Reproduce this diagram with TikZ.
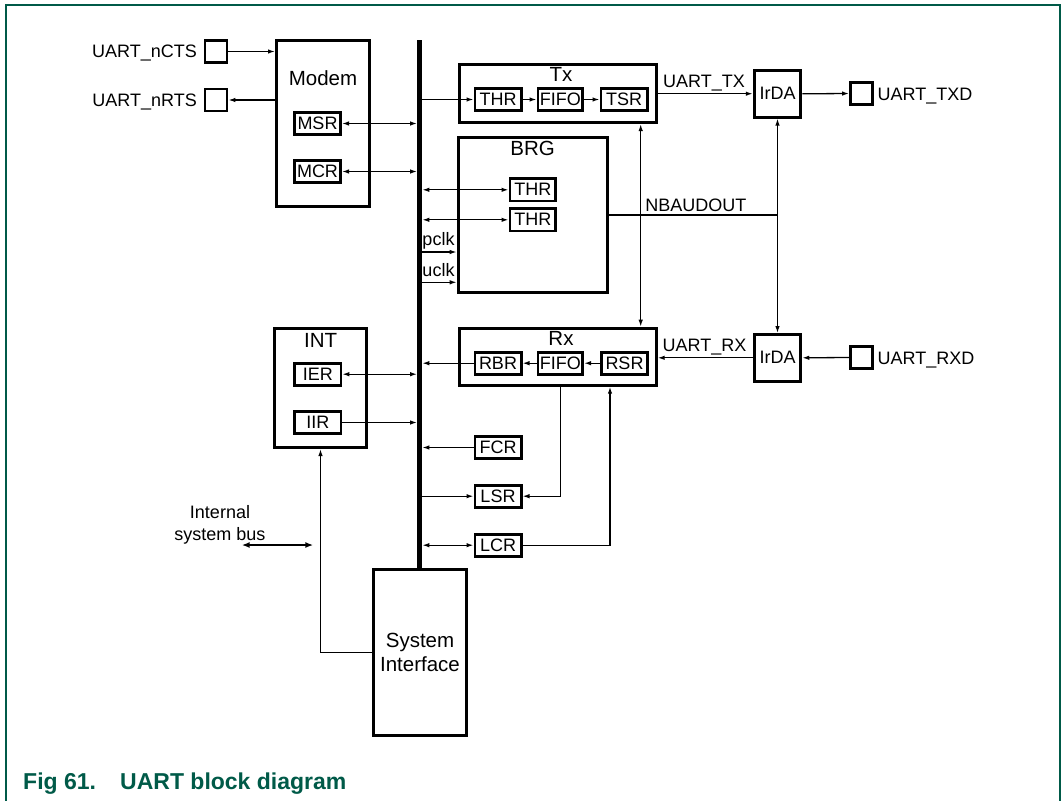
\documentclass[tikz,border=0pt]{standalone}
\usepackage{fontspec}
\setmainfont{Liberation Sans}
\usetikzlibrary{arrows.meta,calc}
\definecolor{nxpgreen}{RGB}{0,90,72}
\newcommand\fsreg{\fontsize{18}{21.6}\selectfont}
\newcommand\fstitle{\fontsize{20.5}{24.4}\selectfont}
\begin{document}
\begin{tikzpicture}[x=1pt,y=-1pt,
  box/.style={draw,line width=3pt,inner sep=0pt},
  reg/.style={draw,line width=2.8pt,inner sep=0pt,minimum width=46.2pt,minimum height=22.2pt,font=\fsreg},
  pin/.style={draw,line width=2.8pt,minimum size=22pt,inner sep=0pt},
  title/.style={font=\fstitle,anchor=base,inner sep=0pt},
  lbl/.style={font=\fsreg,inner sep=0pt},
  wire/.style={line width=1.3pt},
  arr/.style={wire,-{Latex[length=7pt,width=4.5pt]}},
  darr/.style={wire,{Latex[length=7pt,width=4.5pt]}-{Latex[length=7pt,width=4.5pt]}},
]
\useasboundingbox (0,0) rectangle (1061,801);
\draw[nxpgreen,line width=2pt] (6,801) -- (6,5) -- (1060,5) -- (1060,801);

% bus
\node[fill=black,inner sep=0pt,minimum width=4.8pt,minimum height=528pt] (bus) at (419.7,304) {};

% Modem
\node[box,minimum width=93pt,minimum height=166pt] (modem) at (323,123.5) {};
\node[title] (modemT) at (323,85.7) {Modem};
\node[reg] (msr) at (317.5,123.5) {MSR};
\node[reg] (mcr) at (317.5,171.5) {MCR};
\node[pin] (ncts) at (216,51.5) {};
\node[pin] (nrts) at (216,100) {};
\node[lbl,anchor=base east] (nctsL) at (197,57.7) {UART\_nCTS};
\node[lbl,anchor=base east] (nrtsL) at (197,106) {UART\_nRTS};

% Tx
\node[box,minimum width=197pt,minimum height=57.7pt] (tx) at (557.7,93.7) {};
\node[title] (txT) at (561,81.7) {Tx};
\node[reg] (txthr) at (498,99.5) {THR};
\node[reg,minimum width=44.8pt] (txfifo) at (560.3,99.5) {FIFO};
\node[reg] (txtsr) at (624,99.5) {TSR};
\node[box,minimum size=46.5pt,font=\fsreg] (irda1) at (777.5,93.8) {IrDA};
\node[pin] (txd) at (861.5,93.5) {};
\node[lbl,anchor=base west] (txdL) at (877.5,100) {UART\_TXD};
\node[lbl,anchor=base] (uarttxL) at (704,87.7) {UART\_TX};

% BRG
\node[box,minimum width=149.6pt,minimum height=155.6pt] (brg) at (533,215) {};
\node[title] (brgT) at (532.7,155) {BRG};
\node[reg,minimum width=45.8pt] (bthr1) at (532.8,189.8) {THR};
\node[reg,minimum width=45.8pt] (bthr2) at (532.8,219.8) {THR};
\node[lbl,anchor=base] (nbaudL) at (695.8,211.7) {NBAUDOUT};
\node[lbl,anchor=base] (pclkL) at (438.5,245.3) {pclk};
\node[lbl,anchor=base] (uclkL) at (438.5,276) {uclk};

% Rx
\node[box,minimum width=197pt,minimum height=57pt] (rx) at (557.7,356.7) {};
\node[title] (rxT) at (561,345.7) {Rx};
\node[reg] (rbr) at (498,363.2) {RBR};
\node[reg,minimum width=44.8pt] (rxfifo) at (560.3,363.2) {FIFO};
\node[reg] (rsr) at (624.5,363.2) {RSR};
\node[box,minimum size=46.5pt,font=\fsreg] (irda2) at (777.5,357.8) {IrDA};
\node[pin] (rxd) at (861.5,357.5) {};
\node[lbl,anchor=base west] (rxdL) at (877.5,364) {UART\_RXD};
\node[lbl,anchor=base] (uartrxL) at (704.5,351.7) {UART\_RX};

% INT
\node[box,minimum width=92.6pt,minimum height=118.7pt] (int) at (320.5,388.2) {};
\node[title] (intT) at (320.7,347.7) {INT};
\node[reg] (ier) at (317.8,374.2) {IER};
\node[reg] (iir) at (317.8,422.5) {IIR};

% FCR LSR LCR
\node[reg] (fcr) at (498,447.5) {FCR};
\node[reg] (lsr) at (498,496.2) {LSR};
\node[reg] (lcr) at (498,545.2) {LCR};

% System interface
\node[box,minimum width=93.6pt,minimum height=165.4pt,font=\fstitle,align=center] (sysif) at (420,652.5) {System\\Interface};

% Internal system bus
\node[lbl,anchor=base] (isb1) at (220,518) {Internal};
\node[lbl,anchor=base] (isb2) at (220,540) {system bus};
\coordinate (isbL) at (241.7,545);
\coordinate (isbR) at (313.3,545);

% caption
\node[anchor=base west,inner sep=0pt,text=nxpgreen,font=\fontsize{23}{27}\selectfont\bfseries] (cap) at (23,789) {\makebox[97pt][l]{Fig 61.}UART block diagram};

% connectors
\draw[arr] (ncts.east) -- (ncts.east -| modem.west);
\draw[arr] (nrts.east -| modem.west) -- (nrts.east);
\draw[darr] (msr.east) -- (msr.east -| bus.west);
\draw[darr] (mcr.east) -- (mcr.east -| bus.west);
\draw[arr] (txthr.west -| bus.east) -- (txthr.west);
\draw[arr] (txthr.east) -- (txfifo.west);
\draw[arr] (txfifo.east) -- (txtsr.west);
\draw[arr] (tx.east) -- (tx.east -| irda1.west);
\draw[arr] (irda1.east) -- (txd.west);
\draw[darr] (irda1.south) -- (irda2.north);
\coordinate (vx) at (640.7,0);
\draw[darr] (vx |- tx.south) -- (vx |- rx.north);
\draw[wire] (brg.east) -- (brg.east -| irda1.south);
\draw[darr] (bthr1.west -| bus.east) -- (bthr1.west);
\draw[darr] (bthr2.west -| bus.east) -- (bthr2.west);
\coordinate (pclkY) at (0,252);
\coordinate (uclkY) at (0,282.3);
\draw[arr] (bus.east |- pclkY) -- (brg.west |- pclkY);
\draw[arr] (bus.east |- uclkY) -- (brg.west |- uclkY);
\draw[arr] (rbr.west) -- (rbr.west -| bus.east);
\draw[arr] (rxfifo.west) -- (rbr.east);
\draw[arr] (rsr.west) -- (rxfifo.east);
\draw[arr] (irda2.west) -- (irda2.west -| rx.east);
\draw[arr] (rxd.west) -- (irda2.east);
\draw[darr] (ier.east) -- (ier.east -| bus.west);
\draw[arr] (iir.east) -- (iir.east -| bus.west);
\draw[arr] (fcr.west) -- (fcr.west -| bus.east);
\draw[arr] (lsr.west -| bus.east) -- (lsr.west);
\draw[darr] (lcr.west -| bus.east) -- (lcr.west);
\draw[arr] (rxfifo |- rx.south) -- (rxfifo |- lsr.east) -- (lsr.east);
\coordinate (lcrx) at (610,0);
\draw[arr] (lcr.east) -- (lcr.east -| lcrx) -- (lcrx |- rx.south);
\draw[arr] (sysif.west) -| (int.south);
\draw[line width=2.5pt,{Latex[length=8pt,width=6pt]}-{Latex[length=8pt,width=6pt]}] (isbL) -- (isbR);
\end{tikzpicture}
\end{document}
